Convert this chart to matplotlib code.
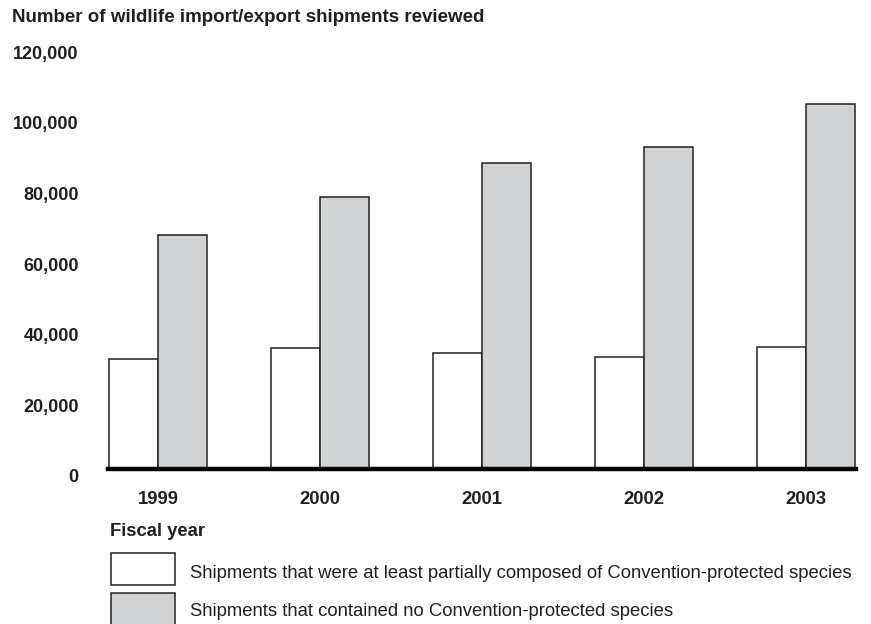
import matplotlib
matplotlib.use('Agg')
import matplotlib.pyplot as plt
import matplotlib.transforms as mtransforms
import numpy as np
from matplotlib.patches import Rectangle

# data
years = ['1999', '2000', '2001', '2002', '2003']
protected = [31100, 34200, 32800, 31700, 34500]
not_protected = [66200, 76900, 86600, 91100, 103300]
yticks = [0, 20000, 40000, 60000, 80000, 100000, 120000]
ytick_labels = ['0', '20,000', '40,000', '60,000', '80,000', '100,000', '120,000']
legend_labels = ['Shipments that were at least partially composed of Convention-protected species',
                 'Shipments that contained no Convention-protected species']

plt.rcParams['font.family'] = ['Liberation Sans', 'DejaVu Sans']

fig = plt.figure(figsize=(8.71, 6.24), dpi=100)
ax = fig.add_axes([108 / 871, 1 - 469 / 624, (856 - 108) / 871, 424 / 624])

gray = '#d1d2d4'
index = np.arange(len(years))
bar_width = 0.3

ax.bar(index - bar_width / 2, protected, width=bar_width, color='white',
       edgecolor='#222222', linewidth=1.1, zorder=2)
ax.bar(index + bar_width / 2, not_protected, width=bar_width, color=gray,
       edgecolor='#222222', linewidth=1.1, zorder=2)

# thick baseline
ax.axhline(0, color='black', linewidth=3.2, zorder=3, clip_on=False)

ax.set_xlim(-0.309, 4.309)
ax.set_ylim(0, 120000)
for s in ax.spines.values():
    s.set_visible(False)

ax.set_yticks(yticks)
ax.set_yticklabels(ytick_labels, fontsize=13, fontweight='bold', color='#231f20')
ax.set_xticks(index)
ax.set_xticklabels(years, fontsize=13.3, fontweight='bold', color='#231f20')
ax.tick_params(axis='y', length=0, pad=21)
ax.tick_params(axis='x', length=0, pad=15.5)

# labels sit a little below their values in the original
shift = mtransforms.ScaledTranslation(0, -7 / 100, fig.dpi_scale_trans)
for lab in ax.get_yticklabels():
    lab.set_transform(lab.get_transform() + shift)

# title and axis label
fig.text(12 / 871, 1 - 18 / 624, 'Number of wildlife import/export shipments reviewed',
         fontsize=13.5, fontweight='bold', color='#231f20', va='center', ha='left')
fig.text(110 / 871, 1 - 531 / 624, 'Fiscal year', fontsize=13.3, fontweight='bold',
         color='#231f20', va='center', ha='left')

# legend boxes drawn by hand
colors = ['white', gray]
box_tops = [553, 593]
text_y = [573, 612]
for i in range(len(legend_labels)):
    fig.patches.append(Rectangle((111 / 871, 1 - (box_tops[i] + 32) / 624), 64 / 871, 32 / 624,
                                 transform=fig.transFigure, facecolor=colors[i],
                                 edgecolor='#222222', linewidth=1.1))
    fig.text(190 / 871, 1 - text_y[i] / 624, legend_labels[i], fontsize=13.3,
             color='#231f20', va='center', ha='left')

plt.savefig('out.png', dpi=100)
